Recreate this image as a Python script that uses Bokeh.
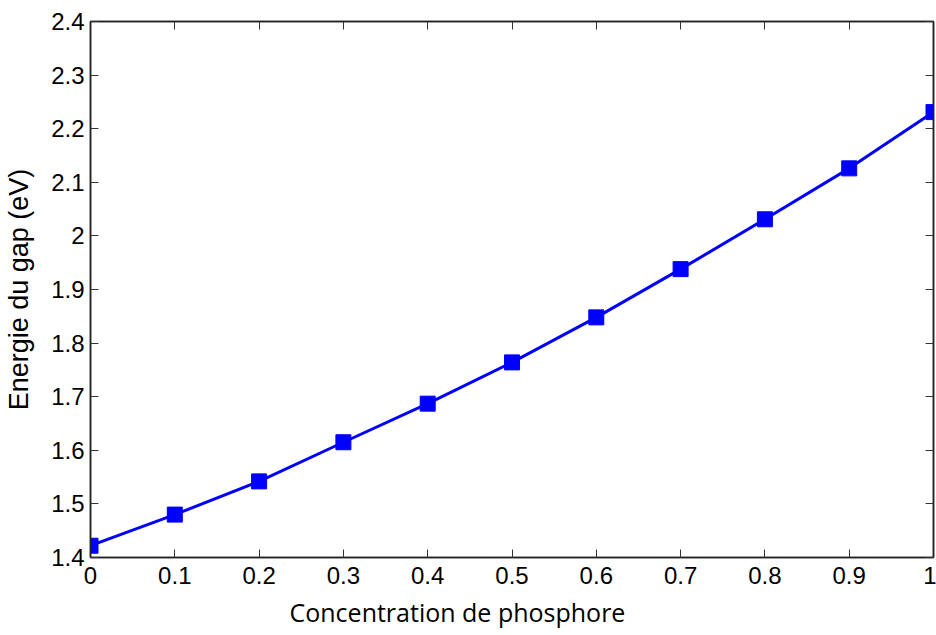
from bokeh.plotting import figure
from bokeh.models import LinearAxis, FixedTicker, Range1d, Title
from bokeh.embed import file_html
from bokeh.resources import INLINE

x_vals = [0.0, 0.1, 0.2, 0.3, 0.4, 0.5, 0.6, 0.7, 0.8, 0.9, 1.0]
gap_ev = [1.422, 1.480, 1.542, 1.615, 1.687, 1.764, 1.848, 1.938, 2.031, 2.126, 2.231]
x_ticks = [0, 0.1, 0.2, 0.3, 0.4, 0.5, 0.6, 0.7, 0.8, 0.9, 1]
y_ticks = [1.4, 1.5, 1.6, 1.7, 1.8, 1.9, 2.0, 2.1, 2.2, 2.3, 2.4]
x_tick_labels = {0: "0", 0.1: "0.1", 0.2: "0.2", 0.3: "0.3", 0.4: "0.4", 0.5: "0.5",
                 0.6: "0.6", 0.7: "0.7", 0.8: "0.8", 0.9: "0.9", 1: "1"}
y_tick_labels = {1.4: "1.4", 1.5: "1.5", 1.6: "1.6", 1.7: "1.7", 1.8: "1.8", 1.9: "1.9",
                 2.0: "2", 2.1: "2.1", 2.2: "2.2", 2.3: "2.3", 2.4: "2.4"}
x_title = "Concentration de phosphore"
y_title = "Energie du gap (eV)"

SANS = "Arial, 'Liberation Sans', sans-serif"
TICK_SIZE = "24px"

p = figure(width=936, height=635, output_backend="svg", toolbar_location=None,
           x_range=Range1d(0, 1), y_range=Range1d(1.4, 2.4),
           min_border_left=90, min_border_right=3, min_border_top=21, min_border_bottom=10,
           x_axis_location=None, y_axis_location=None)
p.grid.visible = False
p.outline_line_color = "#222222"
p.outline_line_width = 1.5
p.background_fill_color = "white"
p.border_fill_color = "white"

xb = LinearAxis(ticker=FixedTicker(ticks=x_ticks),
                major_label_overrides=x_tick_labels,
                major_label_text_font=SANS, major_label_text_font_size=TICK_SIZE,
                major_label_text_color="black", major_label_standoff=9,
                major_tick_in=8, major_tick_out=0, minor_tick_in=0, minor_tick_out=0,
                major_tick_line_color="#333333", axis_line_color="#222222", axis_line_width=1.5)
p.add_layout(xb, "below")

p.add_layout(Title(text=x_title, align="left", offset=199,
                   text_font="'Open Sans', sans-serif", text_font_size="25px",
                   text_font_style="normal", text_color="black", standoff=13), "below")

yl = LinearAxis(ticker=FixedTicker(ticks=y_ticks),
                major_label_overrides=y_tick_labels,
                major_label_text_font=SANS, major_label_text_font_size=TICK_SIZE,
                major_label_text_color="black", major_label_standoff=6,
                major_tick_in=8, major_tick_out=0, minor_tick_in=0, minor_tick_out=0,
                major_tick_line_color="#333333", axis_line_color="#222222", axis_line_width=1.5,
                axis_label=y_title,
                axis_label_text_font=SANS, axis_label_text_font_size="27px",
                axis_label_text_font_style="normal", axis_label_text_color="black",
                axis_label_standoff=14)
p.add_layout(yl, "left")

xt = LinearAxis(ticker=FixedTicker(ticks=x_ticks), major_label_text_font_size="0px",
                major_label_text_alpha=0, major_label_standoff=0,
                major_tick_in=8, major_tick_out=0, minor_tick_in=0, minor_tick_out=0,
                major_tick_line_color="#333333", axis_line_color="#222222", axis_line_width=1.5)
p.add_layout(xt, "above")

yr = LinearAxis(ticker=FixedTicker(ticks=y_ticks), major_label_text_font_size="0px",
                major_label_text_alpha=0, major_label_standoff=0,
                major_tick_in=8, major_tick_out=0, minor_tick_in=0, minor_tick_out=0,
                major_tick_line_color="#333333", axis_line_color="#222222", axis_line_width=1.5)
p.add_layout(yr, "right")

p.line(x_vals, gap_ev, line_color="#0000ff", line_width=3)
p.scatter(x_vals, gap_ev, marker="square", size=15, fill_color="#0000ff", line_color="#0000ff")

open("out.html", "w").write(file_html(p, INLINE))
